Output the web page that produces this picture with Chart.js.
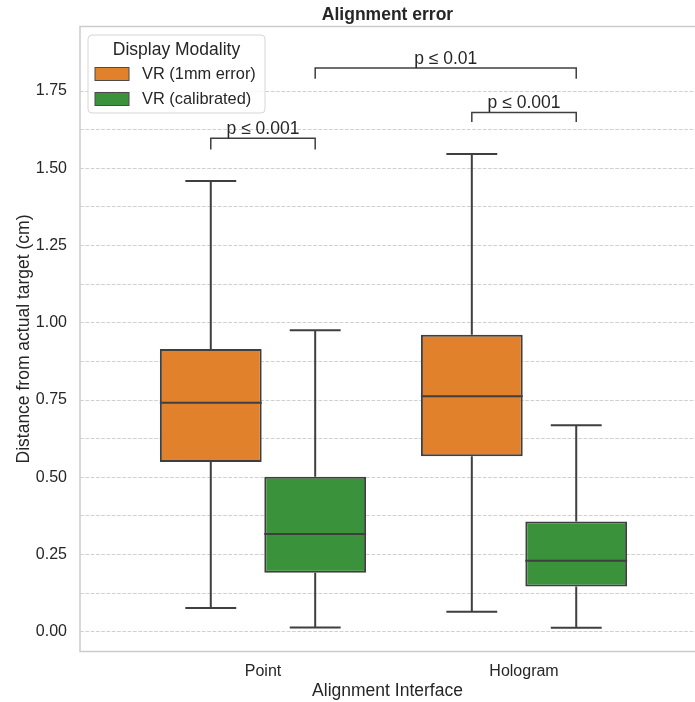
<!DOCTYPE html>
<html>
<head>
<meta charset="utf-8">
<script src="https://cdn.jsdelivr.net/npm/chart.js@4.4.0/dist/chart.umd.min.js"></script>
<style>
  html, body { margin: 0; padding: 0; background: #fff; }
</style>
</head>
<body>
<canvas id="chart" width="695" height="702"></canvas>
<script>
// categories on the x axis
const categories = ['Point', 'Hologram'];
const seriesNames = ['VR (1mm error)', 'VR (calibrated)'];

// VR (1mm error) box stats, one value per category
const errLow = [0.077, 0.065];
const errQ1 = [0.549, 0.568];
const errMedian = [0.741, 0.762];
const errQ3 = [0.915, 0.961];
const errHigh = [1.459, 1.546];

// VR (calibrated) box stats
const calLow = [0.014, 0.013];
const calQ1 = [0.191, 0.146];
const calMedian = [0.316, 0.230];
const calQ3 = [0.502, 0.357];
const calHigh = [0.976, 0.668];

// y grid values (labels only on every second one)
const yGrid = [0, 0.125, 0.25, 0.375, 0.5, 0.625, 0.75, 0.875, 1, 1.125, 1.25, 1.375, 1.5, 1.625, 1.75];

// significance brackets: [category, series] pairs, leg bottom / bar top, label
const bracketFrom = [[0, 0], [1, 0], [0, 1]];
const bracketTo = [[0, 1], [1, 1], [1, 1]];
const bracketLow = [1.561, 1.650, 1.790];
const bracketHigh = [1.597, 1.681, 1.825];
const bracketText = ['p ≤ 0.001', 'p ≤ 0.001', 'p ≤ 0.01'];

const lineColor = '#3f3f3f';
const textColor = '#262626';
const spineColor = '#cccccc';
const fontFamily = "'Liberation Sans', Arial, sans-serif";

Chart.defaults.font.family = fontFamily;
Chart.defaults.color = textColor;

const makeDataset = (label, color, low, q1, median, q3, high) => ({
    label: label,
    data: categories.map((c, i) => ({ x: i, y: [q1[i], q3[i]] })),
    backgroundColor: color,
    borderColor: lineColor,
    borderWidth: 2,
    borderSkipped: false,
    categoryPercentage: 0.8,
    barPercentage: 0.975,
    stats: { low, median, high, q1, q3 },
});

// frame (left, top, bottom spines) drawn over the grid
const spines = {
    id: 'spines',
    beforeDatasetsDraw(chart) {
        const { ctx, chartArea: a } = chart;
        ctx.save();
        ctx.strokeStyle = spineColor;
        ctx.lineWidth = 1.5;
        ctx.beginPath();
        ctx.moveTo(a.right, a.top);
        ctx.lineTo(a.left, a.top);
        ctx.lineTo(a.left, a.bottom);
        ctx.lineTo(a.right, a.bottom);
        ctx.stroke();
        ctx.restore();
    }
};

// whiskers, caps and median lines around the bar boxes
const boxParts = {
    id: 'boxParts',
    beforeDatasetsDraw(chart) {
        const { ctx, scales: { y } } = chart;
        ctx.save();
        ctx.strokeStyle = lineColor;
        ctx.lineWidth = 2;
        chart.data.datasets.forEach((ds, di) => {
            chart.getDatasetMeta(di).data.forEach((bar, i) => {
                const s = ds.stats;
                const half = bar.width / 4;
                const pLow = y.getPixelForValue(s.low[i]);
                const pHigh = y.getPixelForValue(s.high[i]);
                const pQ1 = y.getPixelForValue(s.q1[i]);
                const pQ3 = y.getPixelForValue(s.q3[i]);
                ctx.beginPath();
                ctx.moveTo(bar.x, pQ1); ctx.lineTo(bar.x, pLow);
                ctx.moveTo(bar.x, pQ3); ctx.lineTo(bar.x, pHigh);
                ctx.moveTo(bar.x - half, pLow); ctx.lineTo(bar.x + half, pLow);
                ctx.moveTo(bar.x - half, pHigh); ctx.lineTo(bar.x + half, pHigh);
                ctx.stroke();
            });
        });
        ctx.restore();
    },
    afterDatasetsDraw(chart) {
        const { ctx, scales: { y } } = chart;
        ctx.save();
        ctx.strokeStyle = lineColor;
        ctx.lineWidth = 2;
        chart.data.datasets.forEach((ds, di) => {
            chart.getDatasetMeta(di).data.forEach((bar, i) => {
                const pMed = y.getPixelForValue(ds.stats.median[i]);
                ctx.beginPath();
                ctx.moveTo(bar.x - bar.width / 2, pMed);
                ctx.lineTo(bar.x + bar.width / 2, pMed);
                ctx.stroke();
            });
        });
        ctx.restore();
    }
};

// p-value brackets
const brackets = {
    id: 'brackets',
    afterDatasetsDraw(chart) {
        const { ctx, scales: { y } } = chart;
        ctx.save();
        ctx.strokeStyle = lineColor;
        ctx.lineWidth = 1.5;
        ctx.fillStyle = textColor;
        ctx.font = '17.5px ' + fontFamily;
        ctx.textAlign = 'center';
        ctx.textBaseline = 'alphabetic';
        bracketText.forEach((txt, k) => {
            const [c1, s1] = bracketFrom[k];
            const [c2, s2] = bracketTo[k];
            const x1 = chart.getDatasetMeta(s1).data[c1].x;
            const x2 = chart.getDatasetMeta(s2).data[c2].x;
            const yLow = y.getPixelForValue(bracketLow[k]);
            const yHigh = y.getPixelForValue(bracketHigh[k]);
            ctx.beginPath();
            ctx.moveTo(x1, yLow);
            ctx.lineTo(x1, yHigh);
            ctx.lineTo(x2, yHigh);
            ctx.lineTo(x2, yLow);
            ctx.stroke();
            ctx.fillText(txt, (x1 + x2) / 2, yHigh - 4);
        });
        ctx.restore();
    }
};

// legend box in the upper left of the plot
const boxLegend = {
    id: 'boxLegend',
    afterDraw(chart) {
        const { ctx, chartArea: a } = chart;
        const x0 = a.left + 8, y0 = a.top + 8.5, w = 177, h = 78;
        ctx.save();
        ctx.beginPath();
        ctx.roundRect(x0, y0, w, h, 4);
        ctx.fillStyle = 'rgba(255,255,255,0.8)';
        ctx.fill();
        ctx.strokeStyle = '#d6d6d6';
        ctx.lineWidth = 1;
        ctx.stroke();
        ctx.fillStyle = textColor;
        ctx.font = '17.5px ' + fontFamily;
        ctx.textAlign = 'center';
        ctx.textBaseline = 'middle';
        ctx.fillText('Display Modality', x0 + w / 2, y0 + 15.5);
        ctx.font = '16.4px ' + fontFamily;
        ctx.textAlign = 'left';
        chart.data.datasets.forEach((ds, i) => {
            const py = y0 + 32.5 + i * 25;
            ctx.fillStyle = ds.backgroundColor;
            ctx.fillRect(x0 + 7, py, 34, 13);
            ctx.strokeStyle = '#4a4a4a';
            ctx.lineWidth = 1;
            ctx.strokeRect(x0 + 7, py, 34, 13);
            ctx.fillStyle = textColor;
            ctx.fillText(ds.label, x0 + 54, py + 7);
        });
        ctx.restore();
    }
};

new Chart(document.getElementById('chart'), {
    type: 'bar',
    data: {
        datasets: [
            makeDataset(seriesNames[0], '#e1812c', errLow, errQ1, errMedian, errQ3, errHigh),
            makeDataset(seriesNames[1], '#3a923a', calLow, calQ1, calMedian, calQ3, calHigh),
        ],
    },
    options: {
        responsive: false,
        animation: false,
        events: [],
        layout: { padding: 0 },
        plugins: {
            legend: { display: false },
            tooltip: { enabled: false },
            title: {
                display: true,
                text: 'Alignment error',
                fullSize: false,
                color: textColor,
                font: { size: 17.5, weight: 'bold' },
                padding: { top: 5, bottom: 0.5 },
            },
        },
        scales: {
            x: {
                type: 'linear',
                min: -0.701,
                max: 1.655,
                offset: false,
                bounds: 'data',
                grid: { display: false, offset: false },
                border: { display: false },
                afterBuildTicks: (scale) => {
                    scale.ticks = categories.map((c, i) => ({ value: i }));
                },
                afterFit: (scale) => { scale.height = 50.5; },
                ticks: {
                    autoSkip: false,
                    maxRotation: 0,
                    padding: 2,
                    color: textColor,
                    font: { size: 16 },
                    callback: (v) => categories[v],
                },
                title: {
                    display: true,
                    text: 'Alignment Interface',
                    color: textColor,
                    font: { size: 17.5 },
                    padding: { top: 0, bottom: 0 },
                },
            },
            y: {
                type: 'linear',
                min: -0.064,
                max: 1.959,
                grid: {
                    color: '#d0d0d0',
                    lineWidth: 1,
                    drawTicks: false,
                },
                border: { display: false, dash: [3.7, 1.6] },
                afterBuildTicks: (scale) => {
                    scale.ticks = yGrid.map(v => ({ value: v }));
                },
                afterFit: (scale) => { scale.width = 80; },
                ticks: {
                    padding: 13,
                    color: textColor,
                    font: { size: 16 },
                    callback: (v) => (Math.abs(v * 4 - Math.round(v * 4)) < 1e-9 ? v.toFixed(2) : ''),
                },
                title: {
                    display: true,
                    text: 'Distance from actual target (cm)',
                    color: textColor,
                    font: { size: 17.5 },
                    padding: { top: 14, bottom: 0 },
                },
            },
        },
    },
    plugins: [spines, boxParts, brackets, boxLegend],
});
</script>
</body>
</html>
